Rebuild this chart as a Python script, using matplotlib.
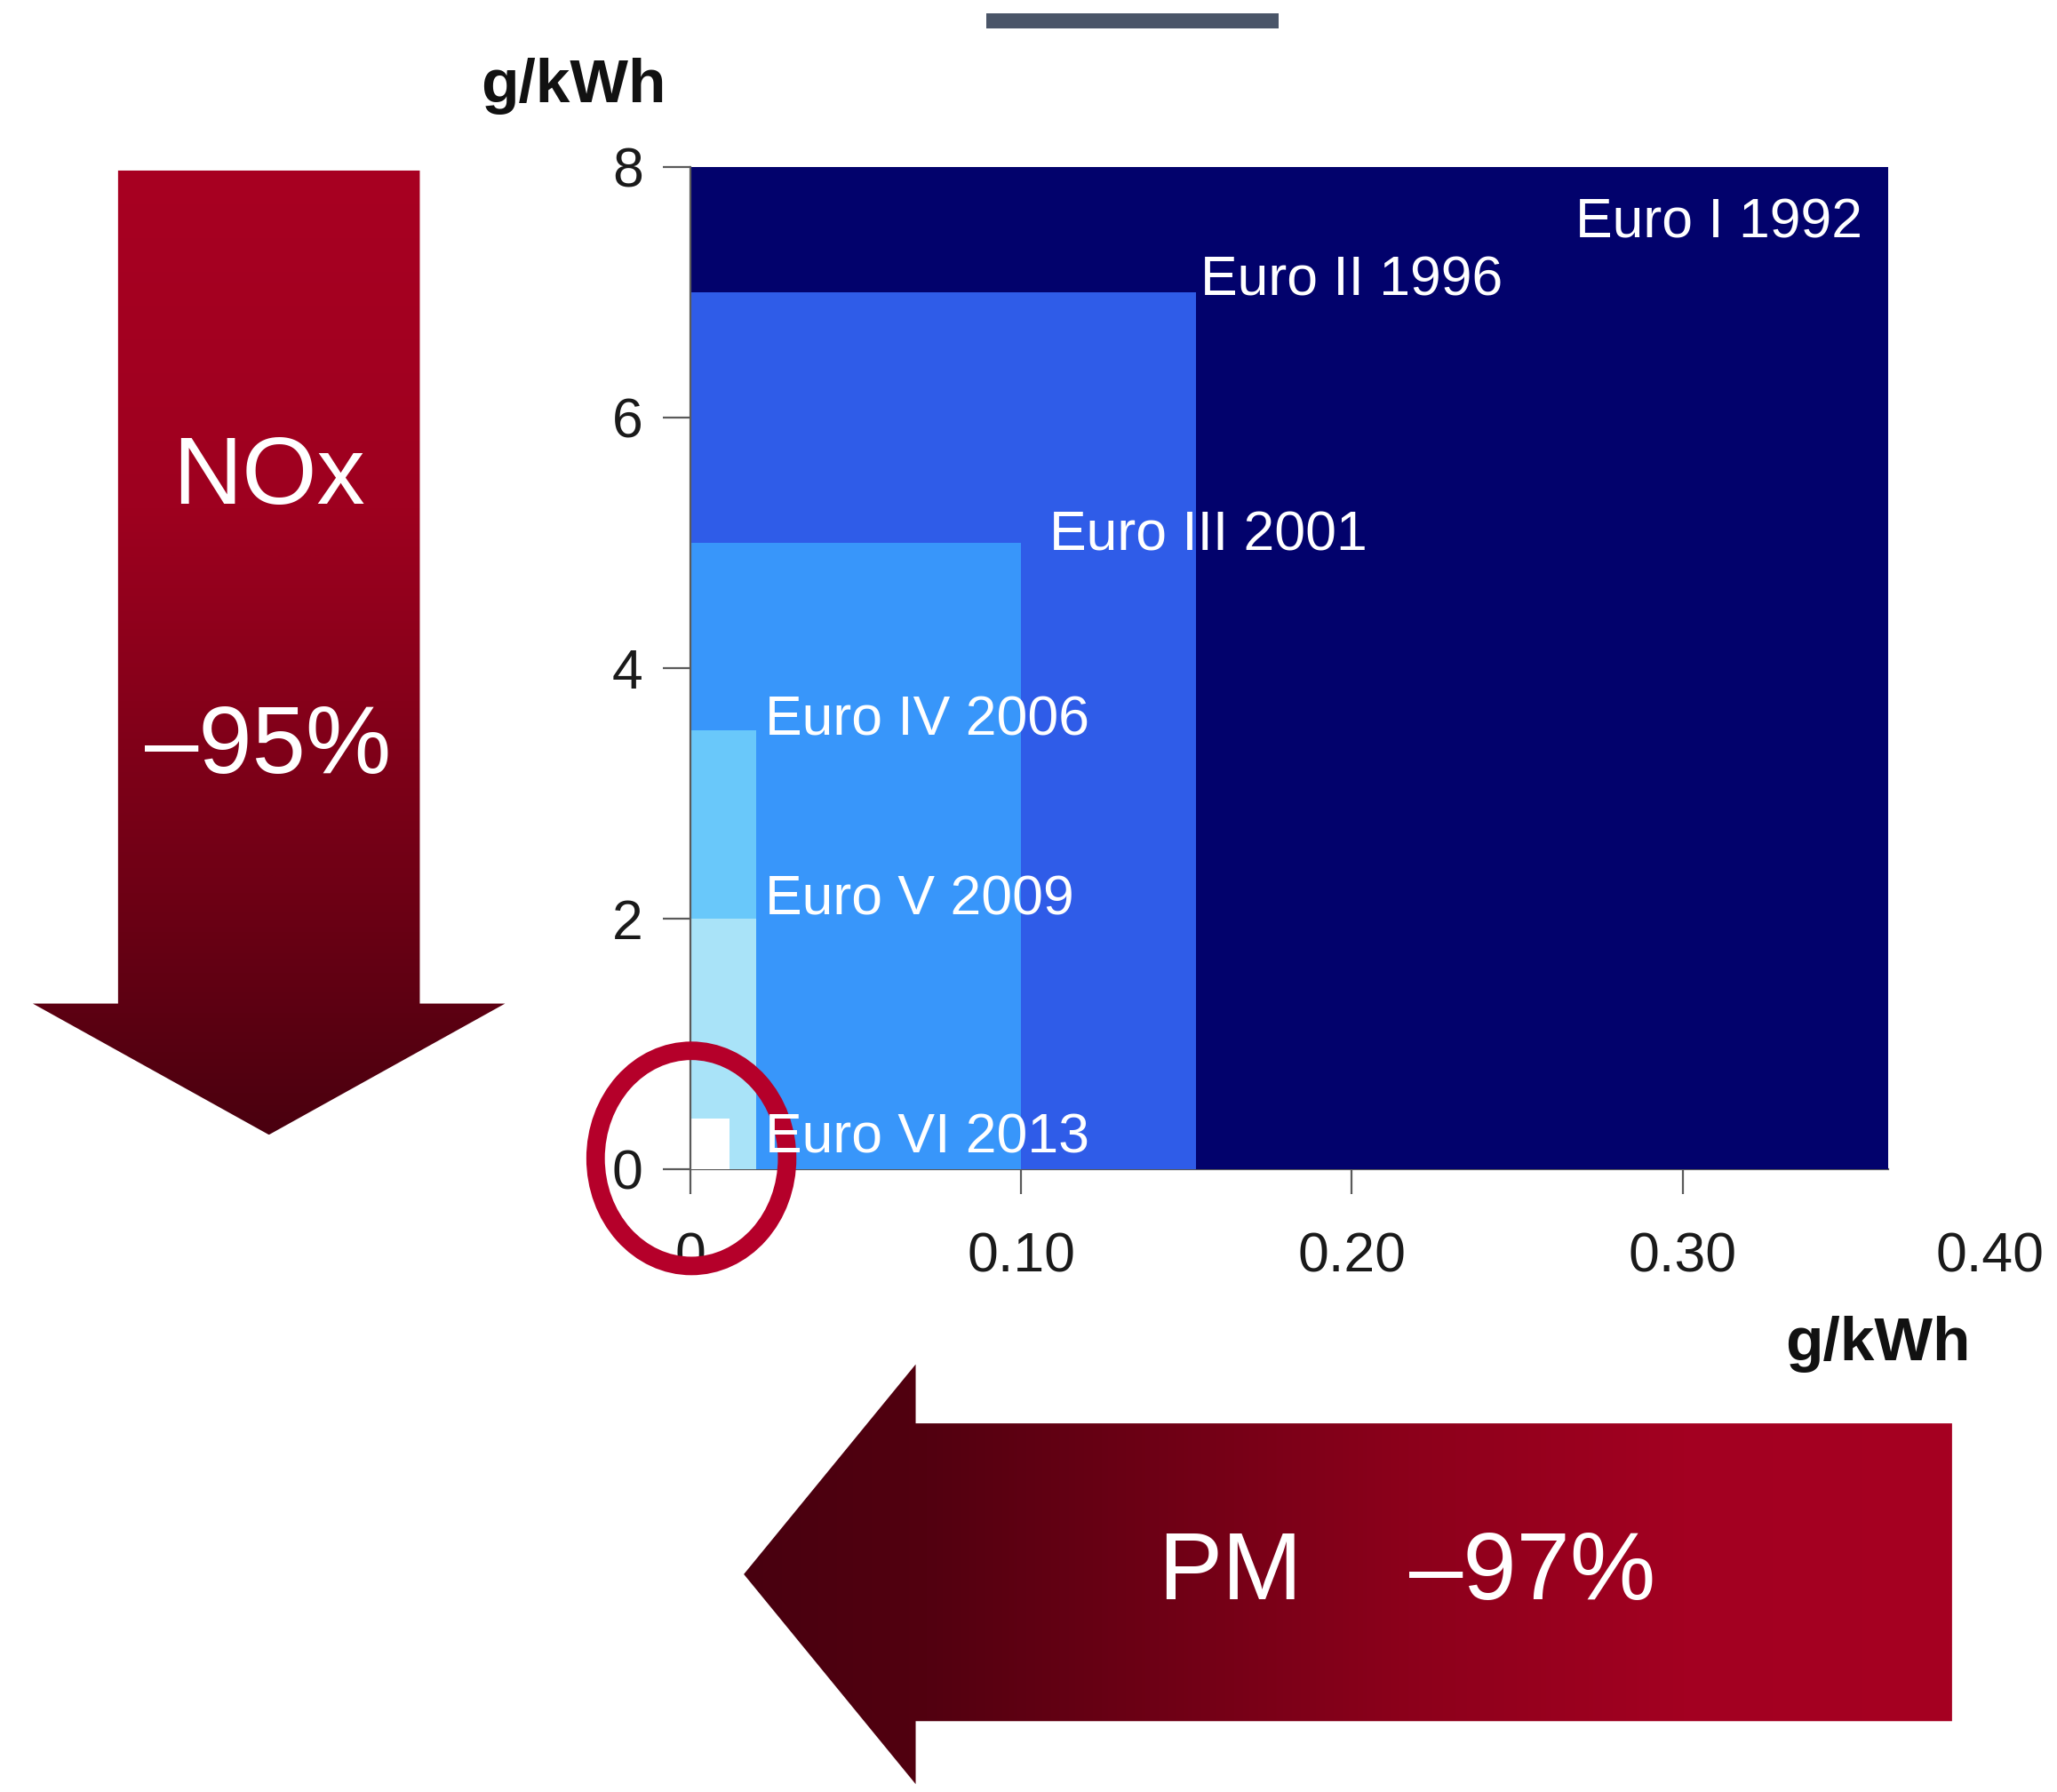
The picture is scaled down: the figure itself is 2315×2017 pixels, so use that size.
import numpy as np
import matplotlib
matplotlib.use("Agg")
import matplotlib.pyplot as plt
from matplotlib.patches import Polygon, Ellipse, Rectangle
from matplotlib.colors import LinearSegmentedColormap
import matplotlib.transforms as mtransforms

plt.rcParams['font.family'] = ['Liberation Sans', 'DejaVu Sans']

# ---------------- data ----------------
stages = ["Euro I 1992", "Euro II 1996", "Euro III 2001",
          "Euro IV 2006", "Euro V 2009", "Euro VI 2013"]
pm_limits = [0.362, 0.153, 0.10, 0.02, 0.02, 0.012]   # g/kWh (x)
nox_limits = [8.0, 7.0, 5.0, 3.5, 2.0, 0.4]           # g/kWh (y)
x_ticks = [0.0, 0.10, 0.20, 0.30, 0.40]
x_tick_labels = ["0", "0.10", "0.20", "0.30", "0.40"]
y_ticks = [0, 2, 4, 6, 8]
y_tick_labels = ["0", "2", "4", "6", "8"]
nox_label = ["NOx", "\u201395%"]
pm_label = ["PM", "\u201397%"]
unit = "g/kWh"

# ---------------- styles ----------------
box_colors = ["#02026C", "#2F5CE8", "#3896FA", "#69C8FA", "#A9E3F8", "#FFFFFF"]
label_dx = [-0.0077, 0.0012, 0.0086, 0.0026, 0.0026, 0.0106]
label_dy = [-0.57, -0.03, -0.06, -0.04, 0.03, -0.27]
label_ha = ["right", "left", "left", "left", "left", "left"]
tick_fs = 45
label_fs = 45
unit_fs = 50

W, H = 1568.0, 1366.0
fig = plt.figure(figsize=(23.15, 20.17), dpi=100)
fig.patch.set_facecolor("white")

x0, x1 = 526, 1535
y0, y1 = 891, 127
ax = fig.add_axes([x0 / W, 1 - y0 / H, (x1 - x0) / W, (y0 - y1) / H], zorder=1)
ax.set_xlim(0, 0.40)
ax.set_ylim(0, 8)
ax.patch.set_alpha(0)

for pm, nox, col in zip(pm_limits, nox_limits, box_colors):
    ax.bar(0, nox, width=pm, align="edge", color=col, edgecolor="none", zorder=1)

for s in ["top", "right"]:
    ax.spines[s].set_visible(False)
ax.spines["left"].set_color("#5a5a5a")
ax.spines["left"].set_linewidth(1.6)
ax.spines["left"].set_zorder(3)
ax.spines["bottom"].set_color("#5a5a5a")
ax.spines["bottom"].set_linewidth(1.6)
ax.spines["bottom"].set_bounds(0, max(pm_limits))
ax.spines["bottom"].set_zorder(0.5)

ax.set_xticks(x_ticks)
ax.set_xticklabels(x_tick_labels)
ax.set_yticks(y_ticks)
ax.set_yticklabels(y_tick_labels)
ax.tick_params(axis="x", length=20, width=1.6, color="#5a5a5a", pad=30,
               labelsize=tick_fs, labelcolor="#1a1a1a")
ax.tick_params(axis="y", length=22, width=1.6, color="#5a5a5a", pad=16,
               labelsize=tick_fs, labelcolor="#1a1a1a")
xt = ax.xaxis.get_major_ticks()
xt[-1].tick1line.set_visible(False)
lab = xt[-1].label1
lab.set_transform(lab.get_transform() +
                  mtransforms.ScaledTranslation(-0.27, 0, fig.dpi_scale_trans))

ov = fig.add_axes([0, 0, 1, 1], zorder=2)
ov.set_xlim(0, W)
ov.set_ylim(H, 0)
ov.axis("off")
ov.patch.set_alpha(0)

ov.add_patch(Rectangle((752, 10), 223, 12, facecolor="#4A5568", edgecolor="none"))

ov.text(437, 66, unit, ha="center", va="center", fontsize=unit_fs,
        fontweight="bold", color="#111111")
ov.text(1502, 1025, unit, ha="right", va="center", fontsize=unit_fs,
        fontweight="bold", color="#111111")

red_cmap = LinearSegmentedColormap.from_list(
    "reds", [(0.0, "#A80022"), (0.35, "#9E001F"), (0.75, "#6E0015"), (1.0, "#4A000F")])
down_pts = [(90, 130), (320, 130), (320, 765), (385, 765), (205, 865),
            (25, 765), (90, 765)]
down_poly = Polygon(down_pts, closed=True, facecolor="none", edgecolor="none")
ov.add_patch(down_poly)
grad_v = np.linspace(0, 1, 512).reshape(-1, 1)
im1 = ov.imshow(grad_v, cmap=red_cmap, extent=(25, 385, 865, 130),
                origin="upper", aspect="auto", interpolation="bilinear", zorder=1)
im1.set_clip_path(down_poly)

left_cmap = LinearSegmentedColormap.from_list(
    "reds2", [(0.0, "#48000F"), (0.15, "#520010"), (0.55, "#8C001B"),
              (0.78, "#A30021"), (1.0, "#A60022")])
left_pts = [(1488, 1085), (698, 1085), (698, 1040), (567, 1200), (698, 1360),
            (698, 1312), (1488, 1312)]
left_poly = Polygon(left_pts, closed=True, facecolor="none", edgecolor="none")
ov.add_patch(left_poly)
grad_h = np.linspace(0, 1, 512).reshape(1, -1)
im2 = ov.imshow(grad_h, cmap=left_cmap, extent=(567, 1488, 1360, 1040),
                origin="upper", aspect="auto", interpolation="bilinear", zorder=1)
im2.set_clip_path(left_poly)
ov.set_xlim(0, W)
ov.set_ylim(H, 0)

ov.text(205, 365, nox_label[0], ha="center", va="center", fontsize=78,
        color="white", zorder=3)
ov.text(204, 570, nox_label[1], ha="center", va="center", fontsize=78,
        color="white", zorder=3)
ov.text(938, 1200, pm_label[0], ha="center", va="center", fontsize=78,
        color="white", zorder=3)
ov.text(1168, 1200, pm_label[1], ha="center", va="center", fontsize=78,
        color="white", zorder=3)

ov.add_patch(Ellipse((527, 883), 146, 164, facecolor="none",
                     edgecolor="#B5002A", linewidth=15, zorder=4))

for name, pm, nox, dx, dy, ha in zip(stages, pm_limits, nox_limits,
                                     label_dx, label_dy, label_ha):
    ov.text(pm + dx, nox + dy, name, transform=ax.transData, ha=ha,
            va="baseline", fontsize=label_fs, color="white", zorder=5)

fig.savefig("out.png", dpi=100, facecolor="white")
